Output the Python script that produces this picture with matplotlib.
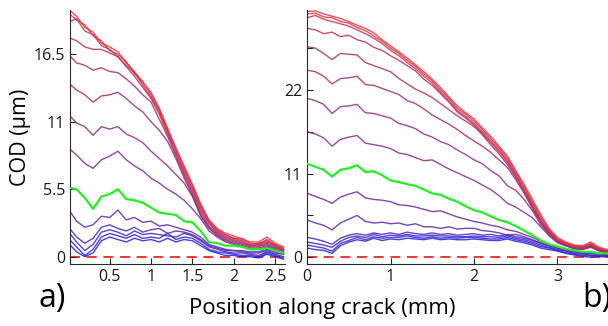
import numpy as np
import matplotlib
matplotlib.use('Agg')
from matplotlib import pyplot as plt

plt.rcParams['font.family'] = ['Open Sans', 'DejaVu Sans']

# ---- panel a) : COD profiles, bottom curve first ----
x_a = [0.03, 0.1, 0.2, 0.3, 0.4, 0.5, 0.6, 0.7, 0.8, 0.9, 1.0, 1.1, 1.2, 1.3,
       1.4, 1.5, 1.6, 1.7, 1.8, 1.9, 2.0, 2.1, 2.2, 2.3, 2.4, 2.5, 2.6]

cod_a = [
    [0.9, 0.4, 0.0, 0.3, 1.3, 1.6, 1.4, 1.2, 1.5, 1.3, 1.4, 1.2, 1.5, 1.2, 1.4, 1.3, 0.9, 0.5, 0.3, 0.1, 0.1, 0.0, 0.0, -0.1, 0.2, 0.0, -0.2],
    [1.3, 0.8, 0.1, 0.6, 1.6, 1.9, 1.7, 1.5, 1.8, 1.5, 1.6, 1.5, 1.9, 1.4, 1.6, 1.5, 1.1, 0.6, 0.4, 0.3, 0.2, 0.1, 0.1, 0.0, 0.3, 0.1, -0.1],
    [1.8, 1.2, 0.5, 1.0, 2.0, 2.2, 2.0, 1.7, 2.1, 1.8, 1.9, 1.8, 1.7, 1.6, 1.9, 1.7, 1.3, 0.8, 0.6, 0.4, 0.3, 0.3, 0.2, 0.1, 0.4, 0.2, 0.0],
    [2.2, 1.6, 1.1, 1.5, 2.4, 2.6, 2.3, 2.1, 2.4, 2.0, 2.2, 2.3, 1.9, 2.1, 2.0, 1.8, 1.4, 0.9, 0.7, 0.5, 0.5, 0.4, 0.3, 0.3, 0.5, 0.3, 0.2],
    [3.6, 2.9, 2.4, 2.6, 3.3, 3.2, 3.8, 3.0, 3.2, 2.8, 2.9, 2.5, 2.6, 2.4, 2.2, 2.0, 1.6, 1.0, 0.8, 0.6, 0.5, 0.5, 0.4, 0.4, 0.6, 0.4, 0.2],
    [5.6, 5.5, 4.8, 3.9, 4.9, 5.1, 5.5, 4.7, 4.6, 4.4, 4.0, 3.6, 3.5, 3.4, 2.9, 2.8, 2.1, 1.2, 1.1, 0.9, 0.9, 0.8, 0.6, 0.6, 0.7, 0.5, 0.3],
    [8.7, 8.3, 7.6, 7.2, 7.9, 8.2, 8.6, 7.9, 7.4, 7.0, 6.4, 6.0, 5.5, 5.1, 4.6, 3.9, 3.1, 2.1, 1.6, 1.2, 1.0, 0.8, 0.6, 0.6, 0.8, 0.5, 0.3],
    [11.4, 10.9, 10.6, 9.9, 10.6, 10.4, 10.6, 10.0, 9.7, 9.3, 8.6, 8.0, 7.4, 6.7, 6.0, 4.9, 3.3, 2.3, 1.7, 1.3, 1.1, 0.9, 0.7, 0.7, 0.9, 0.6, 0.4],
    [14.0, 13.6, 13.2, 12.6, 13.1, 13.2, 13.4, 12.9, 12.3, 11.8, 11.0, 10.3, 9.4, 8.0, 6.4, 5.0, 3.4, 2.4, 1.8, 1.4, 1.2, 1.0, 0.8, 0.8, 1.0, 0.7, 0.5],
    [16.3, 15.8, 15.6, 15.2, 15.4, 15.1, 15.0, 14.5, 13.9, 13.2, 12.6, 11.2, 9.8, 8.2, 6.6, 5.2, 3.6, 2.5, 1.9, 1.5, 1.3, 1.1, 0.9, 0.9, 1.1, 0.8, 0.5],
    [17.8, 17.6, 17.1, 16.9, 16.9, 16.6, 16.3, 15.5, 14.7, 13.8, 12.9, 11.6, 10.0, 8.4, 6.8, 5.4, 3.8, 2.7, 2.0, 1.6, 1.4, 1.2, 0.9, 1.0, 1.2, 0.9, 0.6],
    [19.2, 19.4, 18.4, 18.1, 17.2, 16.9, 16.3, 15.6, 15.0, 14.0, 13.0, 11.8, 10.2, 8.6, 7.0, 5.6, 4.0, 2.8, 2.1, 1.7, 1.5, 1.3, 1.0, 1.1, 1.3, 0.9, 0.6],
    [19.7, 19.3, 18.9, 18.0, 17.6, 16.8, 16.5, 15.9, 14.9, 14.3, 13.2, 12.0, 10.3, 8.9, 7.2, 5.8, 4.2, 2.9, 2.2, 1.8, 1.5, 1.5, 1.1, 1.0, 1.4, 1.0, 0.7],
    [20.0, 19.6, 18.7, 18.3, 17.4, 17.1, 16.7, 15.8, 15.1, 14.2, 13.4, 12.1, 10.5, 8.8, 7.4, 5.9, 4.3, 3.0, 2.3, 1.9, 1.7, 1.4, 1.2, 1.2, 1.6, 1.1, 0.8],
]
green_a = 5

# ---- panel b) ----
x_b = [0.0, 0.1, 0.2, 0.3, 0.4, 0.5, 0.6, 0.7, 0.8, 0.9, 1.0, 1.1, 1.2, 1.3,
       1.4, 1.5, 1.6, 1.7, 1.8, 1.9, 2.0, 2.1, 2.2, 2.3, 2.4, 2.5, 2.6, 2.7,
       2.8, 2.9, 3.0, 3.1, 3.2, 3.3, 3.4, 3.5, 3.6]

cod_b = [
    [1.2, 1.0, 0.9, 0.5, 1.5, 2.0, 2.3, 2.1, 2.5, 2.2, 2.4, 2.3, 2.5, 2.4, 2.3, 2.5, 2.3, 2.4, 2.3, 2.3, 2.4, 2.3, 2.2, 2.2, 2.4, 2.1, 1.9, 1.6, 1.2, 1.0, 0.8, 0.5, 0.3, 0.1, 0.0, 0.1, 0.0],
    [1.6, 1.4, 1.2, 0.8, 1.8, 2.2, 2.6, 2.3, 2.7, 2.5, 2.6, 2.6, 2.8, 2.6, 2.5, 2.7, 2.5, 2.6, 2.5, 2.6, 2.6, 2.5, 2.4, 2.4, 2.6, 2.3, 2.1, 1.8, 1.4, 1.2, 0.9, 0.6, 0.4, 0.2, 0.2, 0.2, 0.1],
    [2.0, 1.8, 1.6, 1.3, 2.1, 2.6, 2.8, 2.6, 3.0, 2.7, 2.9, 2.8, 3.0, 2.8, 2.8, 2.9, 2.8, 2.8, 2.7, 2.7, 2.8, 2.7, 2.7, 2.6, 2.8, 2.5, 2.3, 2.0, 1.6, 1.3, 1.0, 0.8, 0.5, 0.4, 0.3, 0.3, 0.2],
    [2.6, 2.4, 2.1, 1.7, 2.5, 2.9, 3.1, 2.9, 3.2, 3.0, 3.2, 3.0, 3.3, 3.1, 3.0, 3.2, 3.0, 3.1, 2.9, 3.0, 3.1, 2.9, 3.0, 2.8, 3.0, 2.7, 2.5, 2.2, 1.8, 1.5, 1.2, 0.9, 0.7, 0.5, 0.5, 0.4, 0.3],
    [4.9, 4.5, 4.2, 3.6, 4.5, 5.0, 5.5, 4.7, 4.5, 4.6, 4.4, 4.5, 4.2, 4.4, 4.0, 4.0, 3.8, 4.0, 3.7, 3.8, 3.8, 3.5, 3.4, 3.2, 2.9, 3.0, 2.7, 2.3, 1.9, 1.5, 1.2, 0.9, 0.7, 0.5, 0.6, 0.4, 0.3],
    [8.4, 8.0, 7.6, 7.1, 7.9, 8.3, 8.6, 7.8, 7.6, 7.5, 7.3, 6.9, 6.8, 6.6, 6.3, 6.0, 6.1, 5.7, 5.3, 5.0, 4.7, 4.5, 4.2, 4.0, 3.6, 3.4, 3.0, 2.6, 2.1, 1.6, 1.3, 1.0, 0.8, 0.6, 0.7, 0.5, 0.4],
    [12.3, 11.9, 11.5, 10.6, 11.5, 11.7, 12.1, 11.2, 11.3, 10.8, 10.1, 9.9, 9.6, 9.4, 8.9, 8.4, 8.2, 7.7, 7.3, 6.7, 6.2, 5.9, 5.4, 4.9, 4.6, 4.1, 3.5, 2.9, 2.2, 1.7, 1.4, 1.1, 0.9, 0.7, 0.7, 0.5, 0.5],
    [16.5, 16.2, 15.7, 14.6, 15.5, 15.8, 16.0, 15.0, 14.8, 14.6, 14.3, 13.7, 13.5, 13.1, 12.7, 12.8, 12.2, 11.6, 11.1, 10.6, 10.1, 9.5, 8.9, 8.1, 7.1, 6.6, 5.9, 5.2, 4.0, 2.8, 1.9, 1.5, 1.1, 1.0, 1.3, 0.8, 0.6],
    [20.9, 20.6, 20.1, 18.9, 19.8, 19.9, 20.1, 19.0, 18.9, 18.6, 18.3, 17.6, 17.3, 16.9, 16.2, 15.8, 15.2, 14.8, 14.1, 13.5, 12.8, 12.3, 11.4, 10.7, 9.4, 8.8, 7.6, 6.1, 4.3, 3.0, 2.0, 1.5, 1.2, 1.1, 1.4, 0.9, 0.6],
    [24.6, 24.4, 23.8, 22.8, 23.5, 23.6, 23.8, 22.7, 22.6, 22.2, 21.8, 21.4, 20.6, 20.2, 19.5, 18.7, 18.1, 17.5, 16.8, 16.0, 15.3, 14.6, 13.8, 12.8, 11.8, 10.2, 8.4, 6.4, 4.5, 3.1, 2.1, 1.6, 1.2, 1.1, 1.5, 0.9, 0.7],
    [27.7, 27.5, 26.8, 26.0, 26.8, 26.7, 26.6, 25.6, 25.2, 24.8, 24.4, 23.5, 22.8, 22.1, 21.6, 21.0, 20.2, 19.4, 18.6, 17.9, 17.2, 16.1, 14.8, 13.6, 12.2, 10.5, 8.6, 6.6, 4.7, 3.2, 2.1, 1.6, 1.3, 1.2, 1.5, 1.0, 0.7],
    [30.1, 29.9, 29.4, 29.6, 29.0, 29.2, 28.6, 28.3, 27.6, 27.2, 26.5, 25.9, 25.2, 24.5, 23.4, 22.6, 21.5, 20.4, 19.1, 18.3, 17.4, 16.3, 15.1, 13.9, 12.5, 10.7, 8.8, 6.8, 4.8, 3.3, 2.2, 1.7, 1.3, 1.2, 1.6, 1.0, 0.8],
    [31.5, 31.8, 31.3, 31.0, 30.7, 30.4, 29.9, 29.4, 28.8, 28.1, 27.2, 26.5, 25.6, 24.8, 23.8, 22.9, 21.7, 20.6, 19.3, 18.5, 17.6, 16.5, 15.3, 14.1, 12.7, 10.9, 9.0, 7.0, 5.0, 3.4, 2.3, 1.8, 1.4, 1.3, 1.7, 1.1, 0.8],
    [32.0, 32.1, 31.6, 31.5, 31.0, 30.8, 30.2, 29.8, 29.1, 28.4, 27.5, 26.8, 25.9, 25.1, 24.1, 23.2, 22.0, 20.9, 19.6, 18.8, 17.9, 16.8, 15.6, 14.4, 13.0, 11.2, 9.3, 7.3, 5.3, 3.6, 2.4, 1.9, 1.5, 1.4, 1.8, 1.2, 0.9],
    [32.3, 32.4, 32.0, 31.7, 31.4, 31.0, 30.5, 30.1, 29.5, 28.6, 27.8, 27.0, 26.2, 25.3, 24.4, 23.4, 22.3, 21.1, 19.9, 19.0, 18.2, 17.0, 15.9, 14.6, 13.3, 11.4, 9.6, 7.6, 5.6, 3.8, 2.6, 2.0, 1.6, 1.5, 2.0, 1.3, 1.0],
]
green_b = 6

blue = np.array([0.13, 0.12, 0.88])
red = np.array([0.90, 0.20, 0.22])


def draw_panel(ax, x, curves, green_idx):
    n = len(curves)
    ax.axhline(0, color='#ff1010', lw=1.2, ls=(0, (6, 4)), zorder=1)
    for i, y in enumerate(curves):
        if i == green_idx:
            continue
        t = i / (n - 1)
        ax.plot(x, y, color=tuple(blue * (1 - t) + red * t), lw=1.0, alpha=0.85)
    ax.plot(x, curves[green_idx], color='#22ee22', lw=1.6, zorder=5)
    for s in ['top', 'right']:
        ax.spines[s].set_visible(False)
    for s in ['left', 'bottom']:
        ax.spines[s].set_color('#262626')
        ax.spines[s].set_linewidth(0.8)
    ax.tick_params(direction='in', length=4, width=0.8, labelsize=11.5,
                   colors='#262626', labelcolor='#1a1a1a')


fig = plt.figure(figsize=(6.08, 3.26), dpi=100)

ax1 = fig.add_axes([0.115, 0.19, 0.354, 0.779])
draw_panel(ax1, x_a, cod_a, green_a)
ax1.set_xlim(0.02, 2.62)
ax1.set_ylim(-0.6, 20.1)
ax1.set_xticks([0.5, 1, 1.5, 2, 2.5])
ax1.set_xticklabels(['0.5', '1', '1.5', '2', '2.5'])
ax1.set_yticks([0, 5.5, 11, 16.5])
ax1.set_yticklabels(['0', '5.5', '11', '16.5'])
ax1.set_ylabel('COD (µm)', fontsize=15.5, labelpad=2)

ax2 = fig.add_axes([0.505, 0.19, 0.497, 0.779])
draw_panel(ax2, x_b, cod_b, green_b)
ax2.set_xlim(0, 3.62)
ax2.set_ylim(-0.9, 32.5)
ax2.set_xticks([0, 1, 2, 3])
ax2.set_xticklabels(['0', '1', '2', '3'])
ax2.set_yticks([0, 5.5, 11, 16.5, 22, 27.5])
ax2.set_yticklabels(['0', '', '11', '', '22', ''])

fig.text(0.53, 0.055, 'Position along crack (mm)', fontsize=16,
         ha='center', va='center')
fig.text(0.063, 0.085, 'a)', fontsize=23, ha='left', va='center')
fig.text(0.958, 0.085, 'b)', fontsize=23, ha='left', va='center')

fig.savefig('out.png', dpi=100)
